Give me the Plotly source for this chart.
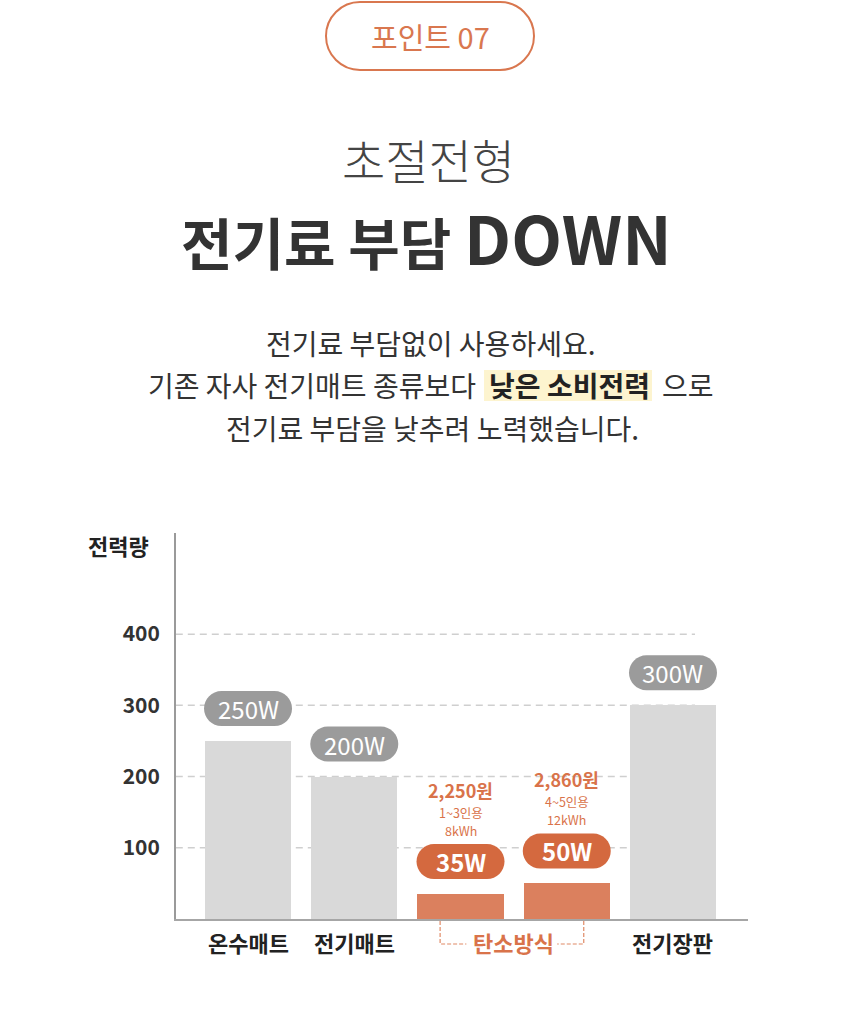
import plotly.graph_objects as go

# ---------------- data ----------------
categories = ["온수매트", "전기매트", "탄소방식 1~3인용", "탄소방식 4~5인용", "전기장판"]
watts = [250, 200, 35, 50, 300]
watt_labels = ["250W", "200W", "35W", "50W", "300W"]
prices = ["", "", "2,250원", "2,860원", ""]
capacity = ["", "", "1~3인용", "4~5인용", ""]
energy = ["", "", "8kWh", "12kWh", ""]
axis_labels = ["온수매트", "전기매트", "", "", "전기장판"]
group_label = "탄소방식"
y_ticks = [100, 200, 300, 400]
y_title = "전력량"

badge_text = "포인트 07"
subtitle = "초절전형"
title_ko = "전기료 부담"
title_en = "DOWN"
body_line1 = "전기료 부담없이 사용하세요."
body_line2_a = "기존 자사 전기매트 종류보다"
body_line2_b = "낮은 소비전력"
body_line2_c = "으로"
body_line3 = "전기료 부담을 낮추려 노력했습니다."

# ---------------- style ----------------
FONT = "Noto Sans CJK KR"
ORANGE_BAR = "#db805e"
ORANGE_PILL = "#d4693f"
ORANGE_TXT = "#d9734a"
GRAY_BAR = "#d9d9d9"
GRAY_PILL = "#9b9b9b"
DARK = "#333333"

W, H = 860, 1032
L, R, T, B = 176, 112, 533, 113
PW, PH = W - L - R, H - T - B


def px(x):
    return (x - L) / PW


def py(y):
    return (H - B - y) / PH


def pill(w, h, cy=0.0):
    r = h / 2
    k = 0.5523 * r
    x0, x1 = -w / 2 + r, w / 2 - r
    top, bot = cy + r, cy - r
    return (f"M {x0},{bot} L {x1},{bot} "
            f"C {x1 + k},{bot} {x1 + r},{cy - k} {x1 + r},{cy} "
            f"C {x1 + r},{cy + k} {x1 + k},{top} {x1},{top} "
            f"L {x0},{top} "
            f"C {x0 - k},{top} {x0 - r},{cy + k} {x0 - r},{cy} "
            f"C {x0 - r},{cy - k} {x0 - k},{bot} {x0},{bot} Z")


xs = list(range(len(categories)))
is_carbon = [p != "" for p in prices]
bar_colors = [ORANGE_BAR if c else GRAY_BAR for c in is_carbon]

fig = go.Figure()
fig.add_trace(go.Bar(
    x=xs, y=watts, width=0.81, marker=dict(color=bar_colors, line=dict(width=0)),
    hoverinfo="skip", customdata=categories,
))

shapes = []
annotations = []

# dashed gridlines (end before last bar's right side)
for v in y_ticks:
    shapes.append(dict(type="line", xref="x", yref="y", x0=-0.68, x1=4.207, y0=v, y1=v,
                       line=dict(color="#cfcfcf", width=1.5, dash="7px,5px"), layer="below"))

# value pills + texts
for i, (v, lab, carbon) in enumerate(zip(watts, watt_labels, is_carbon)):
    shapes.append(dict(type="path", xref="x", yref="y", xsizemode="pixel", ysizemode="pixel",
                       xanchor=i, yanchor=v, path=pill(88, 35, 32.5),
                       fillcolor=ORANGE_PILL if carbon else GRAY_PILL, line=dict(width=0), layer="above"))
    annotations.append(dict(x=i, y=v, xref="x", yref="y", yshift=32.5, text=lab, showarrow=False,
                            font=dict(family=FONT, size=24, color="white", weight=("bold" if carbon else "normal")),
                            xanchor="center", yanchor="middle"))
    if prices[i]:
        annotations.append(dict(x=i, y=v, xref="x", yref="y", yshift=104, text=prices[i], showarrow=False,
                                font=dict(family=FONT, size=18, color=ORANGE_TXT, weight="bold"),
                                xanchor="center", yanchor="middle"))
        annotations.append(dict(x=i, y=v, xref="x", yref="y", yshift=82, text=capacity[i], showarrow=False,
                                font=dict(family=FONT, size=12.5, color=ORANGE_TXT),
                                xanchor="center", yanchor="middle"))
        annotations.append(dict(x=i, y=v, xref="x", yref="y", yshift=64, text=energy[i], showarrow=False,
                                font=dict(family=FONT, size=12.5, color=ORANGE_TXT),
                                xanchor="center", yanchor="middle"))

# category labels
for i, lab in enumerate(axis_labels):
    if lab:
        annotations.append(dict(x=i, y=py(942), xref="x", yref="paper", text=lab, showarrow=False,
                                font=dict(family=FONT, size=22, color="#222222", weight="bold"),
                                xanchor="center", yanchor="middle"))

carbon_idx = [i for i, c in enumerate(is_carbon) if c]
gc = sum(carbon_idx) / len(carbon_idx)
annotations.append(dict(x=gc, y=py(942), xref="x", yref="paper", text=group_label, showarrow=False,
                        font=dict(family=FONT, size=22, color=ORANGE_TXT, weight="bold"),
                        xanchor="center", yanchor="middle"))
# bracket around group label
yt, yb = py(921), py(944)
shapes.append(dict(type="path", xref="x", yref="paper",
                   path=f"M {gc - 0.692},{yt} L {gc - 0.692},{yb} L {gc - 0.445},{yb}",
                   line=dict(color="#e08a66", width=1.2, dash="4px,2px")))
shapes.append(dict(type="path", xref="x", yref="paper",
                   path=f"M {gc + 0.66},{yt} L {gc + 0.66},{yb} L {gc + 0.41},{yb}",
                   line=dict(color="#e08a66", width=1.2, dash="4px,2px")))

# y-axis title
annotations.append(dict(x=px(118), y=py(545), xref="paper", yref="paper", text=y_title, showarrow=False,
                        font=dict(family=FONT, size=22, color="#222222", weight="bold"),
                        xanchor="center", yanchor="middle"))

# ---------------- header ----------------
shapes.append(dict(type="path", xref="paper", yref="paper", xsizemode="pixel", ysizemode="pixel",
                   xanchor=px(430), yanchor=py(36), path=pill(208, 68),
                   fillcolor="white", line=dict(color="#d9774f", width=2)))
annotations.append(dict(x=px(430), y=py(36), xref="paper", yref="paper", text=badge_text, showarrow=False,
                        font=dict(family=FONT, size=29, color="#d9774f"), xanchor="center", yanchor="middle"))
annotations.append(dict(x=px(428), y=py(158), xref="paper", yref="paper", text=subtitle, showarrow=False,
                        font=dict(family=FONT, size=47, color="#444444", weight=300),
                        xanchor="center", yanchor="middle"))
annotations.append(dict(x=px(426), y=py(236), xref="paper", yref="paper",
                        text=f"{title_ko} <span style='font-size:66px'>{title_en}</span>", showarrow=False,
                        font=dict(family=FONT, size=56, color=DARK, weight="bold"),
                        xanchor="center", yanchor="middle"))

body_font = dict(family=FONT, size=28, color=DARK)
annotations.append(dict(x=px(430), y=py(343), xref="paper", yref="paper", text=body_line1, showarrow=False,
                        font=body_font, xanchor="center", yanchor="middle"))
shapes.append(dict(type="rect", xref="paper", yref="paper", x0=px(484), x1=px(652), y0=py(370), y1=py(401),
                   fillcolor="#fdf4cf", line=dict(width=0), layer="below"))
annotations.append(dict(x=px(478), y=py(385), xref="paper", yref="paper", text=body_line2_a, showarrow=False,
                        font=body_font, xanchor="right", yanchor="middle"))
annotations.append(dict(x=px(569), y=py(385), xref="paper", yref="paper", text=body_line2_b, showarrow=False,
                        font=dict(family=FONT, size=28, color="#222222", weight="bold"),
                        xanchor="center", yanchor="middle"))
annotations.append(dict(x=px(660), y=py(385), xref="paper", yref="paper", text=body_line2_c, showarrow=False,
                        font=body_font, xanchor="left", yanchor="middle"))
annotations.append(dict(x=px(432), y=py(428), xref="paper", yref="paper", text=body_line3, showarrow=False,
                        font=body_font, xanchor="center", yanchor="middle"))

fig.update_layout(
    width=W, height=H,
    margin=dict(l=L, r=R, t=T, b=B, pad=0),
    paper_bgcolor="white", plot_bgcolor="white",
    showlegend=False, bargap=0,
    font=dict(family=FONT, color=DARK),
    xaxis=dict(range=[-0.678, 4.706], showgrid=False, zeroline=False, showticklabels=False,
               showline=True, linecolor="#a6a6a6", linewidth=2, ticks="", fixedrange=True),
    yaxis=dict(range=[0, 542], tickvals=y_ticks, showgrid=False, zeroline=False,
               showline=True, linecolor="#9a9a9a", linewidth=2, ticks="",
               tickfont=dict(family=FONT, size=21, color=DARK, weight="bold"),
               ticklabelstandoff=10, fixedrange=True),
    shapes=shapes, annotations=annotations,
)

fig.write_html("out.html", config={"displayModeBar": False})
